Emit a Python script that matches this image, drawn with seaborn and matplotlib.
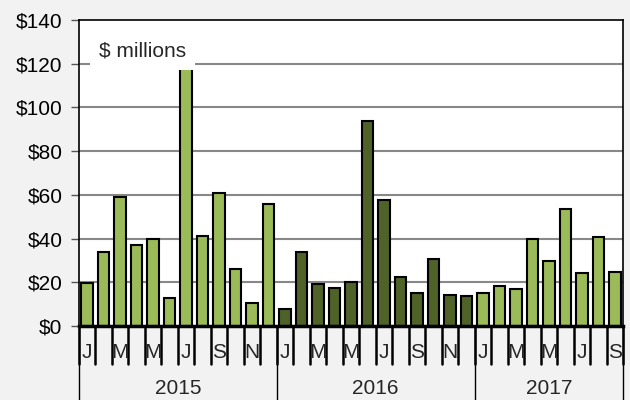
import numpy as np
import pandas as pd
import matplotlib
matplotlib.use("Agg")
import matplotlib.pyplot as plt
import matplotlib.transforms as mtransforms
from matplotlib.patches import Rectangle
import seaborn as sns

# 数据 (每月数值, $ millions)
years = ["2015", "2016", "2017"]
months_per_year = [12, 12, 9]
month_letters = ["J", "F", "M", "A", "M", "J", "J", "A", "S", "O", "N", "D"]
values_2015 = [19.5, 34, 59, 37, 40, 12.7, 118, 41.3, 61, 26, 10.4, 56]
values_2016 = [7.8, 34, 19.4, 17.4, 20.2, 93.6, 57.5, 22.6, 15.3, 30.7, 14.4, 13.5]
values_2017 = [15.3, 18.3, 16.7, 39.7, 29.8, 53.7, 24.3, 40.5, 24.8]
year_colors = {"2015": "#9BBB59", "2016": "#4F6228", "2017": "#9BBB59"}

rows = []
for yr, vals in zip(years, [values_2015, values_2016, values_2017]):
    for m, v in enumerate(vals):
        rows.append({"period": f"{yr}-{m+1:02d}", "year": yr, "month": m, "value": v})
df = pd.DataFrame(rows)

sns.set_theme(style="white")
plt.rcParams['font.family'] = ['Liberation Sans', 'DejaVu Sans']
FS = 15

fig = plt.figure(figsize=(6.3, 4), dpi=100, facecolor="#F2F2F2")
ax = fig.add_axes([79/630, 74/400, 544/630, 306/400])
ax.set_facecolor("white")

sns.barplot(data=df, x="period", y="value", hue="year", palette=year_colors,
            dodge=False, width=0.7, edgecolor="black", linewidth=1.5,
            saturation=1, legend=False, ax=ax, zorder=3)

ax.set_ylim(0, 140)
ax.set_xlim(-0.5, len(df) - 0.5)
ax.set_yticks(np.arange(0, 141, 20))
ax.set_yticklabels([f"${int(t)}" for t in np.arange(0, 141, 20)], fontsize=FS, color="black")
ax.tick_params(axis="y", length=6, width=1, color="#555555", pad=6, left=True)
for t in np.arange(20, 121, 20):
    ax.axhline(t, color="#888888", lw=1.5, zorder=1)
ax.set_xticks([])
ax.set_xlabel("")
ax.set_ylabel("")

for s in ["left", "top", "right"]:
    ax.spines[s].set_color("black")
    ax.spines[s].set_linewidth(1.2)
ax.spines["bottom"].set_color("black")
ax.spines["bottom"].set_linewidth(2.5)
ax.spines["bottom"].set_zorder(5)

# 分类轴: 月份刻度与年份分隔
trans = mtransforms.blended_transform_factory(ax.transData, ax.transAxes)
n = len(df)
for k in range(n + 1):
    ax.plot([k - 0.5, k - 0.5], [0, -0.124], transform=trans, color="black",
            lw=1.8, clip_on=False)
for i, row in df.iterrows():
    if row["month"] % 2 == 0:
        ax.text(i, -0.085, month_letters[row["month"]], transform=trans,
                ha="center", va="center", fontsize=FS)
start = 0
bounds = [-0.5]
for yr, cnt in zip(years, months_per_year):
    ax.text(start + (cnt - 1) / 2, -0.205, yr, transform=trans,
            ha="center", va="center", fontsize=FS)
    start += cnt
    bounds.append(start - 0.5)
for b in bounds:
    ax.plot([b, b], [0, -0.25], transform=trans, color="black", lw=1, clip_on=False)

# 单位标签 (白底遮挡)
ax.add_patch(Rectangle((0.17, 117), 6.35, 17, facecolor="white", edgecolor="none", zorder=6))
ax.text(3.35, 126, "$ millions", ha="center", va="center", fontsize=FS, zorder=7)

fig.savefig("out.png", dpi=100, facecolor=fig.get_facecolor())
